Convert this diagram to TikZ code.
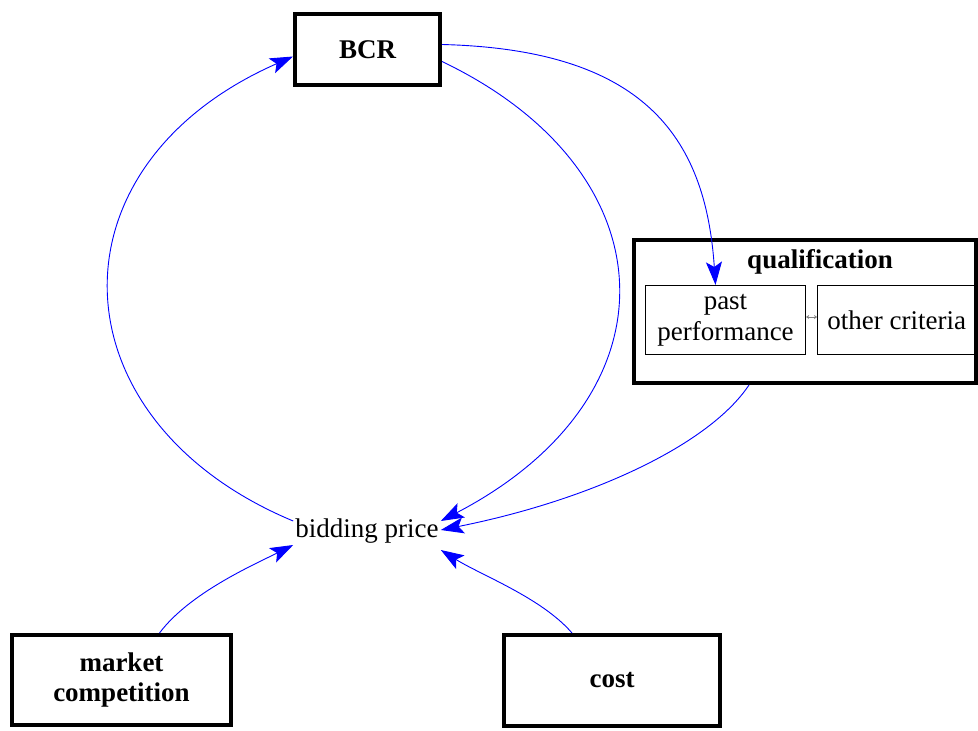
\documentclass[tikz,border=0pt]{standalone}
\usepackage{fontspec}
\setmainfont{Liberation Serif}
\usetikzlibrary{positioning, arrows.meta}

\begin{document}
\begin{tikzpicture}[x=1pt, y=1pt, font=\fontsize{27}{31}\selectfont, >={Stealth[length=23pt, width=16pt, inset=5pt]}]
                \tikzstyle{bigbox} = [rectangle, draw, line width=4pt, align=center, font=\fontsize{27}{31}\selectfont\bfseries]
                \tikzstyle{smallbox} = [rectangle, draw, line width=1.2pt, align=center, inner sep=2pt]
                \tikzstyle{link} = [blue, line width=0.9pt, ->]

                \useasboundingbox (0,0) rectangle (978,-731);

                % Top box and the price in the middle
                \node[bigbox, minimum width=145pt, minimum height=71pt] (bcr) at (367.5,-49.5) {BCR};
                \node[inner sep=2pt] (bid) at (367,-531) {bidding price};

                % Qualification group (right)
                \node[bigbox, minimum width=342pt, minimum height=143pt] (qual) at (805,-311.5) {};
                \node[font=\fontsize{27}{31}\selectfont\bfseries] (qtitle) at (820,-262) {qualification};
                \node[smallbox, minimum width=160pt, minimum height=69pt] (pp) at (725.5,-320) {past\\performance};
                \node[smallbox, minimum width=158pt, minimum height=69pt] (oc) [right=11pt of pp] {other criteria};

                % Bottom boxes
                \node[bigbox, minimum width=219pt, minimum height=90pt] (mc) at (121.5,-680) {market\\competition};
                \node[bigbox, minimum width=216pt, minimum height=91pt] (cost) at (612,-680.5) {cost};

                \draw[gray, line width=0.5pt, <->, >={Stealth[length=3pt, width=4pt]}] ([yshift=3pt]pp.east) -- ([yshift=3pt]oc.west);

                \draw[link] ([yshift=10pt]bid.west) .. controls +(-240,100) and +(-250,-110) .. ([yshift=-7pt]bcr.west);
                \draw[link] ([yshift=-12pt]bcr.east) .. controls +(230,-110) and +(240,125) .. ([yshift=10pt]bid.east);
                \draw[link] ([yshift=5pt]bcr.east) .. controls +(200,-5) and +(-10,150) .. ([xshift=-10pt]pp.north);
                \draw[link] ([xshift=-56pt]qual.south) .. controls +(-40,-60) and +(150,30) .. ([yshift=1pt]bid.east);
                \draw[link] ([xshift=38pt]mc.north) .. controls +(30,40) and +(-40,-20) .. ([yshift=-14pt]bid.west);
                \draw[link] ([xshift=-40pt]cost.north) .. controls +(-30,35) and +(40,-25) .. ([yshift=-19pt]bid.east);
            \end{tikzpicture}
\end{document}
